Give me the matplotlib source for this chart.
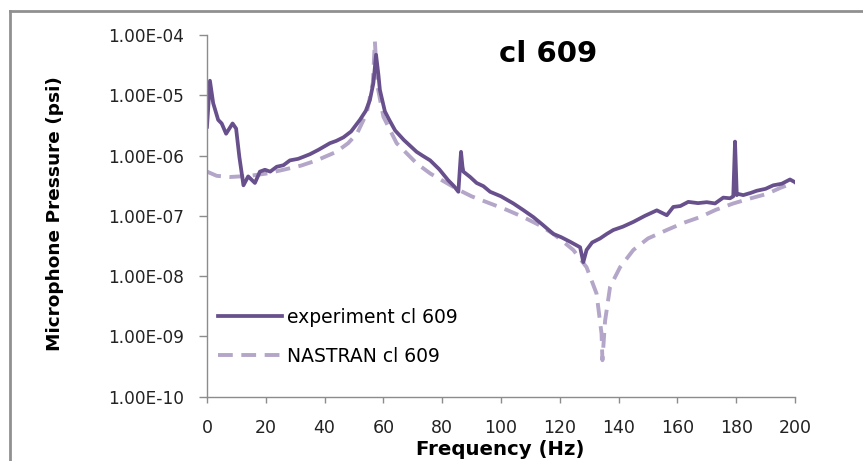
import matplotlib
matplotlib.use("Agg")
import matplotlib.pyplot as plt
from matplotlib.lines import Line2D

# ---- data ----
exp_freq = [0, 1.0, 2.1, 3.8, 5.0, 6.5, 8.7, 9.9, 11.0, 12.4, 14.0, 16.3, 18.0, 19.7,
            21.5, 23.7, 26.0, 28.2, 31.0, 33.0, 35.0, 38.0, 41.8, 44.0, 46.4, 49.0,
            52.0, 54.0, 55.4, 56.6, 57.5, 58.3, 58.8, 60.5, 62.0, 64.0, 67.0, 71.3,
            73.5, 75.9, 79.0, 82.0, 84.0, 85.5, 86.0, 86.4, 86.9, 87.2, 89.5, 91.7,
            94.0, 96.3, 100.0, 104.2, 107.5, 111.0, 114.0, 117.8, 120.5, 123.5,
            126.9, 128.0, 129.1, 131.0, 133.7, 136.0, 138.2, 141.5, 145.0, 149.0,
            153.0, 156.4, 158.6, 161.0, 163.7, 167.0, 170.0, 172.8, 175.6, 177.9,
            179.0, 179.6, 180.2, 180.7, 182.4, 185.0, 187.0, 190.0, 192.6, 195.5,
            198.3, 200.0]
exp_vals = [3.0e-6, 1.74e-5, 7.4e-6, 3.9e-6, 3.4e-6, 2.3e-6, 3.4e-6, 2.8e-6, 9.5e-7, 3.2e-7,
            4.5e-7, 3.5e-7, 5.4e-7, 5.8e-7, 5.4e-7, 6.5e-7, 6.9e-7, 8.3e-7, 8.8e-7,
            9.6e-7, 1.05e-6, 1.25e-6, 1.6e-6, 1.75e-6, 2.0e-6, 2.5e-6, 3.9e-6,
            5.5e-6, 8.3e-6, 1.6e-5, 4.7e-5, 2.2e-5, 1.23e-5, 5.4e-6, 3.9e-6, 2.6e-6,
            1.8e-6, 1.15e-6, 9.8e-7, 8.3e-7, 5.9e-7, 3.9e-7, 3.1e-7, 2.5e-7, 6.0e-7,
            1.15e-6, 6.5e-7, 5.4e-7, 4.4e-7, 3.5e-7, 3.1e-7, 2.5e-7, 2.1e-7, 1.6e-7,
            1.25e-7, 9.5e-8, 7.2e-8, 5.0e-8, 4.4e-8, 3.7e-8, 3.0e-8, 1.7e-8, 2.7e-8,
            3.6e-8, 4.2e-8, 5.0e-8, 5.8e-8, 6.6e-8, 7.9e-8, 1.0e-7, 1.23e-7, 1.02e-7,
            1.4e-7, 1.45e-7, 1.7e-7, 1.62e-7, 1.68e-7, 1.6e-7, 2.0e-7, 1.95e-7, 2.1e-7,
            1.7e-6, 2.2e-7, 2.3e-7, 2.2e-7, 2.4e-7, 2.6e-7, 2.8e-7, 3.2e-7, 3.4e-7,
            4.0e-7, 3.6e-7]

nas_freq = [0, 3.3, 8.0, 14.6, 20.0, 26.0, 32.0, 37.3, 44.0, 48.0, 51.0, 54.3, 56.4,
            57.1, 58.0, 60.0, 64.5, 71.3, 76.0, 81.5, 85.5, 90.0, 96.3, 102.0, 107.6,
            113.0, 117.8, 121.5, 124.6, 129.1, 132.5, 134.2, 134.5, 135.4, 137.1,
            140.5, 145.0, 150.0, 156.4, 162.0, 167.7, 173.0, 179.0, 185.0, 190.4,
            195.0, 200.0]
nas_vals = [5.4e-7, 4.6e-7, 4.4e-7, 4.6e-7, 5.0e-7, 5.8e-7, 6.8e-7, 8.3e-7, 1.15e-6,
            1.6e-6, 2.3e-6, 5.0e-6, 1.6e-5, 7.8e-5, 1.4e-5, 4.4e-6, 1.6e-6, 7.4e-7,
            5.0e-7, 3.5e-7, 2.7e-7, 2.1e-7, 1.6e-7, 1.25e-7, 9.5e-8, 7.0e-8, 5.0e-8,
            3.6e-8, 2.7e-8, 1.4e-8, 5.1e-9, 1.1e-9, 4.0e-10, 1.8e-9, 6.6e-9, 1.4e-8,
            2.7e-8, 4.2e-8, 5.8e-8, 7.6e-8, 9.5e-8, 1.25e-7, 1.6e-7, 1.95e-7, 2.3e-7,
            2.9e-7, 3.6e-7]

x_ticks = [0, 20, 40, 60, 80, 100, 120, 140, 160, 180, 200]
y_ticks = [1e-10, 1e-9, 1e-8, 1e-7, 1e-6, 1e-5, 1e-4]
y_tick_labels = ["1.00E-10", "1.00E-09", "1.00E-08", "1.00E-07",
                 "1.00E-06", "1.00E-05", "1.00E-04"]

title = "cl 609"
exp_label = "experiment cl 609"
nas_label = "NASTRAN cl 609"

# ---- figure ----
plt.rcParams['font.family'] = ['DejaVu Sans']
W, H = 863, 461
AX_L, AX_R, AX_T, AX_B = 207, 795, 35, 396.5
AW, AH = AX_R - AX_L, AX_B - AX_T
fig = plt.figure(figsize=(W / 100, H / 100), dpi=100)
ax = fig.add_axes([AX_L / W, 1 - AX_B / H, AW / W, AH / H])

exp_color = "#67508C"
nas_color = "#B3A6C8"

ax.plot(nas_freq, nas_vals, color=nas_color, lw=2.8, dashes=(3.8, 2.2),
        label=nas_label, solid_capstyle='butt')
ax.plot(exp_freq, exp_vals, color=exp_color, lw=2.7, label=exp_label,
        solid_joinstyle='round')

ax.set_yscale('log')
ax.set_xlim(0, 200)
ax.set_ylim(1e-10, 1e-4)
ax.set_xticks(x_ticks)
ax.set_xticklabels([str(t) for t in x_ticks])
ax.set_yticks(y_ticks)
ax.set_yticklabels(y_tick_labels)
ax.yaxis.set_minor_locator(matplotlib.ticker.NullLocator())

for s in ['top', 'right']:
    ax.spines[s].set_visible(False)
for s in ['left', 'bottom']:
    ax.spines[s].set_color('#8C8C8C')
    ax.spines[s].set_linewidth(1.0)

ax.tick_params(axis='y', direction='out', length=5.8, width=1, color='#8C8C8C',
               labelsize=12.2, pad=11, labelcolor='#222222')
ax.tick_params(axis='x', direction='out', length=4.5, width=1, color='#8C8C8C',
               labelsize=12.5, pad=12, labelcolor='#222222')

ax.set_xlabel("Frequency (Hz)", fontsize=14.2, fontweight='bold')
ax.xaxis.label.set_va('baseline')
ax.xaxis.set_label_coords((500 - AX_L) / AW, -(455 - AX_B) / AH)
ax.set_ylabel("Microphone Pressure (psi)", fontsize=13.3, fontweight='bold')
ax.yaxis.label.set_va('center')
ax.yaxis.set_label_coords(-(AX_L - 55) / AW, (AX_B - 214) / AH)

ax.text(116, 10 ** (-4 - (62 - AX_T) / (AH / 6)), title, fontsize=21,
        fontweight='bold', ha='center', va='baseline')

handles, labels = ax.get_legend_handles_labels()
leg = ax.legend(handles[::-1], labels[::-1], loc='lower left',
                bbox_to_anchor=(11 / AW, (AX_B - 366) / AH), frameon=False,
                fontsize=13.5, handlelength=3.4, handletextpad=0.27,
                labelspacing=1.07, borderaxespad=0, borderpad=0)

# outer frame (top and left edges visible in reference)
fig.add_artist(Line2D([10 / W, 10 / W], [0, 1 - 11 / H], color='#909090',
                      lw=2.0, transform=fig.transFigure))
fig.add_artist(Line2D([10 / W, 1], [1 - 11 / H, 1 - 11 / H], color='#909090',
                      lw=2.0, transform=fig.transFigure))

fig.savefig("out.png", dpi=100)
